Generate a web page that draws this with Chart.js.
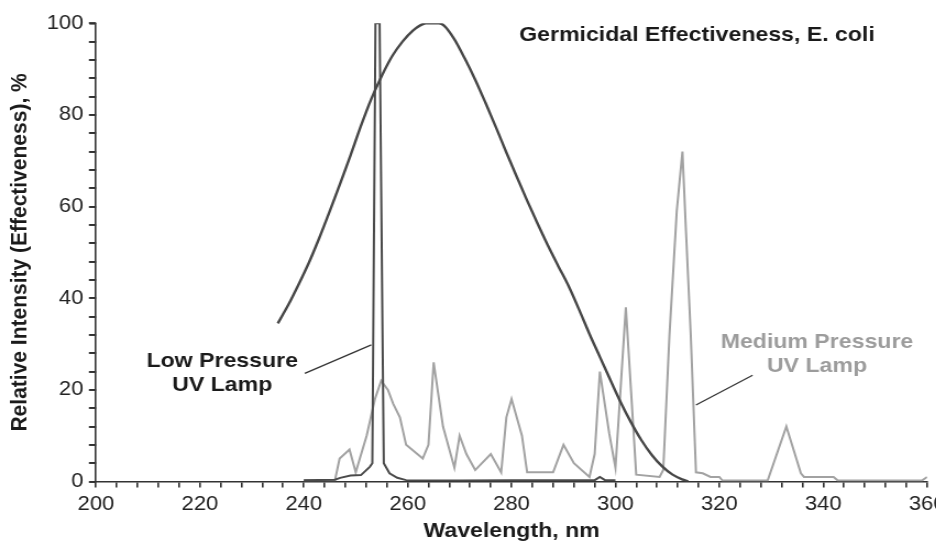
<!DOCTYPE html>
<html>
<head>
<meta charset="utf-8">
<script src="https://cdn.jsdelivr.net/npm/chart.js@4/dist/chart.umd.min.js"></script>
<style>
  html, body { margin: 0; padding: 0; background: #ffffff; width: 936px; height: 544px; overflow: hidden; }
  #wrap { position: absolute; left: 0; top: 0; transform: scaleX(1.1); transform-origin: 0 0; }
  canvas { display: block; }
</style>
</head>
<body>
<div id="wrap"><canvas id="c" width="864" height="544"></canvas></div>
<script>
// ---- Data ----
const xMajorTicks = [200, 220, 240, 260, 280, 300, 320, 340, 360];
const yMajorTicks = [0, 20, 40, 60, 80, 100];

const germicidalWl  = [235, 237, 239, 241, 243, 245, 247, 249, 251, 253, 255, 257, 259, 261, 262.5, 263.5, 266, 267, 269, 271, 273, 275, 277, 279, 281, 283, 285, 287, 289, 291, 293, 295, 297, 299, 301, 303, 305, 307, 309, 311, 313, 314];
const germicidalVal = [34.5, 38.5, 43, 47.8, 53.2, 59, 65, 71.2, 77.6, 83.5, 88.5, 92.8, 96, 98.4, 99.6, 100, 100, 99.5, 96.5, 92.3, 87.7, 82.6, 77.3, 71.8, 66.5, 61.3, 56.3, 51.5, 47, 42.6, 37.5, 32.2, 27.2, 22.2, 17.3, 12.9, 9.0, 5.8, 3.3, 1.5, 0.4, 0];

const lowWl  = [240, 246, 247, 249, 251, 252.7, 253.2, 253.8, 254.6, 255.4, 256.5, 258, 259.7, 270, 280, 290, 296, 297, 298, 300];
const lowVal = [0.3, 0.4, 0.8, 1.3, 1.4, 3.2, 4, 100, 100, 4, 1.8, 0.8, 0.3, 0.2, 0.3, 0.3, 0.3, 1, 0.3, 0.3];

const mediumWl  = [240, 246, 246.9, 248.8, 250, 252.1, 253.7, 254.9, 256.2, 257.2, 258.5, 259.7, 262.9, 264, 265, 266.8, 269, 270, 271.3, 273, 276, 278, 279, 280, 282, 283, 288, 290, 292, 295, 296, 297, 298.8, 300, 302, 304, 308.5, 309.2, 310.4, 311.8, 312.9, 313.6, 314.5, 315.5, 316.8, 318.3, 320, 320.6, 329.3, 332.9, 335.7, 336.3, 342, 342.8, 359, 360];
const mediumVal = [0.3, 0.3, 5, 7, 2, 10, 18, 22, 20, 17, 14, 8, 5, 8, 26, 12, 3, 10, 6, 2.5, 6, 2, 14, 18, 10, 2, 2, 8, 4, 1, 6, 24, 10.5, 3, 38, 1.5, 1, 2.5, 32, 59, 72, 54, 32, 2, 1.8, 1, 1, 0.2, 0.2, 12, 1.8, 1, 1, 0.2, 0.2, 1];

// annotation texts (placed in data coordinates)
const annotationTexts = [
  { lines: ['Germicidal Effectiveness, E. coli'], x: 315.7, y: 97.4, color: '#1a1a1a' },
  { lines: ['Low Pressure', 'UV Lamp'], x: 224.3, y: 26.3, color: '#1a1a1a' },
  { lines: ['Medium Pressure', 'UV Lamp'], x: 338.8, y: 30.3, color: '#9c9c9c' }
];
const leaderLines = [
  { from: [240.2, 23.6], to: [253.0, 29.8] },
  { from: [315.5, 16.7], to: [326.4, 23.2] }
];

// ---- Chart ----
const FONT = '"Liberation Sans", Arial, Helvetica, sans-serif';
const toPts = (xs, ys) => xs.map((x, i) => ({ x: x, y: ys[i] }));

const annotationPlugin = {
  id: 'annot',
  afterDraw(chart) {
    // y-axis tick marks, positioned by the library's own y scale
    const { ctx, chartArea, scales: { y } } = chart;
    ctx.save();
    ctx.strokeStyle = '#333333';
    ctx.lineWidth = 1.8;
    y.ticks.forEach((t, i) => {
      const py = Math.round(y.getPixelForTick(i));
      ctx.beginPath();
      ctx.moveTo(chartArea.left - 6.5, py);
      ctx.lineTo(chartArea.left, py);
      ctx.stroke();
    });
    ctx.restore();
  },
  afterDatasetsDraw(chart) {
    const { ctx, scales: { x, y } } = chart;
    ctx.save();
    ctx.strokeStyle = '#333333';
    ctx.lineWidth = 1.3;
    leaderLines.forEach(l => {
      ctx.beginPath();
      ctx.moveTo(x.getPixelForValue(l.from[0]), y.getPixelForValue(l.from[1]));
      ctx.lineTo(x.getPixelForValue(l.to[0]), y.getPixelForValue(l.to[1]));
      ctx.stroke();
    });
    ctx.font = 'bold 21px ' + FONT;
    ctx.textAlign = 'center';
    ctx.textBaseline = 'middle';
    annotationTexts.forEach(a => {
      ctx.fillStyle = a.color;
      const px = x.getPixelForValue(a.x);
      const py = y.getPixelForValue(a.y);
      a.lines.forEach((t, i) => ctx.fillText(t, px, py + i * 24));
    });
    ctx.restore();
  }
};

const axisGrid = { display: true, drawOnChartArea: false, drawTicks: true, tickLength: 6, color: '#2e2e2e', tickColor: '#2e2e2e', lineWidth: 1.6, tickWidth: 1.6 };

new Chart(document.getElementById('c'), {
  type: 'line',
  data: {
    datasets: [
      { label: 'Germicidal', data: toPts(germicidalWl, germicidalVal), borderColor: '#474747', borderWidth: 2.4, pointRadius: 0, cubicInterpolationMode: 'monotone', fill: false },
      { label: 'Low Pressure', data: toPts(lowWl, lowVal), borderColor: '#4a4a4a', borderWidth: 2, pointRadius: 0, tension: 0, fill: false },
      { label: 'Medium Pressure', data: toPts(mediumWl, mediumVal), borderColor: '#a2a2a2', borderWidth: 2, pointRadius: 0, tension: 0, fill: false }
    ]
  },
  options: {
    responsive: false,
    animation: false,
    devicePixelRatio: 1,
    layout: { padding: { top: 23.3, right: 20.4, bottom: 0, left: 0 } },
    plugins: { legend: { display: false }, tooltip: { enabled: false } },
    scales: {
      x: {
        type: 'linear', min: 200, max: 360,
        afterFit: s => { s.height = 62.5; },
        border: { display: true, color: '#333333', width: 1.6 },
        grid: axisGrid,
        ticks: {
          stepSize: 4, autoSkip: false, maxRotation: 0, minRotation: 0, padding: 4.5,
          color: '#222222', font: { family: FONT, size: 20 },
          callback: v => (xMajorTicks.includes(Math.round(v)) ? String(Math.round(v)) : '')
        },
        title: { display: true, text: 'Wavelength, nm', color: '#1a1a1a', font: { family: FONT, size: 21, weight: 'bold' }, padding: { top: 0, bottom: 0 } }
      },
      y: {
        type: 'linear', min: 0, max: 100,
        afterFit: s => { s.width = 87.27; },
        border: { display: true, color: '#333333', width: 1.6 },
        grid: axisGrid,
        ticks: {
          stepSize: 4, autoSkip: false, padding: 5.5,
          color: '#222222', font: { family: FONT, size: 20 },
          callback: v => (yMajorTicks.includes(Math.round(v)) ? String(Math.round(v)) : '')
        },
        title: { display: true, text: 'Relative Intensity (Effectiveness), %', color: '#1a1a1a', font: { family: FONT, size: 21, weight: 'bold' }, padding: { top: 6, bottom: 0 } }
      }
    }
  },
  plugins: [annotationPlugin]
});
</script>
</body>
</html>
